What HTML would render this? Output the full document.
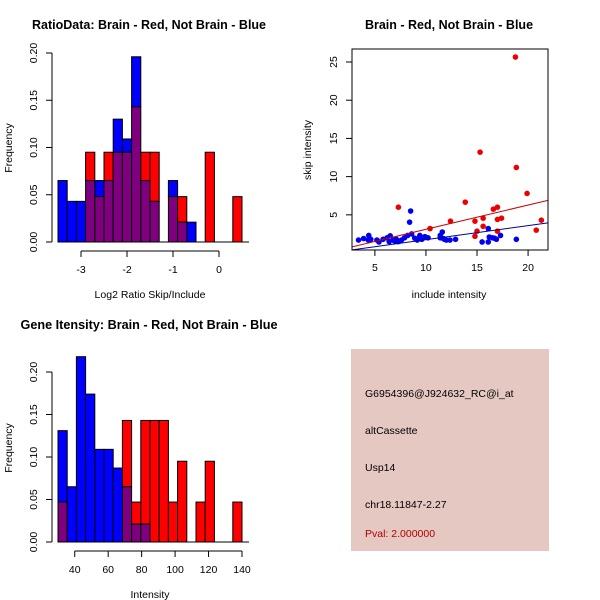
<!DOCTYPE html>
<html><head><meta charset="utf-8">
<style>
html,body{margin:0;padding:0;background:#fff;}
svg{display:block;font-family:"Liberation Sans","DejaVu Sans",sans-serif;}
</style></head>
<body>
<svg id="chart" width="600" height="600" viewBox="0 0 600 600" xmlns="http://www.w3.org/2000/svg">
<g>
<text x="149" y="29" font-size="12.5" font-weight="bold" text-anchor="middle" textLength="234" lengthAdjust="spacingAndGlyphs">RatioData: Brain - Red, Not Brain - Blue</text>
<text x="150" y="298" font-size="10.5" text-anchor="middle">Log2 Ratio Skip/Include</text>
<text transform="translate(12,148) rotate(-90)" font-size="10.5" text-anchor="middle">Frequency</text>
<g id="h1"></g>
</g>
<g>
<text x="449" y="29" font-size="12.5" font-weight="bold" text-anchor="middle">Brain - Red, Not Brain - Blue</text>
<text x="449" y="298" font-size="10.5" text-anchor="middle">include intensity</text>
<text transform="translate(311,150) rotate(-90)" font-size="10.5" text-anchor="middle">skip intensity</text>
<g id="sc"></g>
</g>
<g>
<text x="149" y="329" font-size="12.5" font-weight="bold" text-anchor="middle" textLength="257" lengthAdjust="spacingAndGlyphs">Gene Itensity: Brain - Red, Not Brain - Blue</text>
<text x="150" y="598" font-size="10.5" text-anchor="middle">Intensity</text>
<text transform="translate(12,448) rotate(-90)" font-size="10.5" text-anchor="middle">Frequency</text>
<g id="h2"></g>
</g>
<g>
<rect x="351" y="349" width="198" height="202" fill="#e6c8c2"/>
<text x="365" y="397" font-size="10.5">G6954396@J924632_RC@i_at</text>
<text x="365" y="434" font-size="10.5">altCassette</text>
<text x="365" y="471" font-size="10.5">Usp14</text>
<text x="365" y="508" font-size="10.5">chr18.11847-2.27</text>
<text x="365" y="537" font-size="10.5" fill="#b00000">Pval: 2.000000</text>
</g>
</svg>
<script>
// Ratio histogram data (20 bins from -3.5 to 0.5)
const ratioBinStart = -3.5;
const ratioBinWidth = 0.2;
const ratioBlue = [0.065,0.043,0.043,0.065,0.065,0.065,0.130,0.109,0.196,0.065,0.043,0,0.065,0.021,0.021,0,0,0,0,0];
const ratioRed  = [0,0,0,0.095,0.048,0.095,0.095,0.095,0.143,0.095,0.095,0,0.048,0.048,0,0,0.095,0,0,0.048];
const ratioXTicks = [-3,-2,-1,0];
const ratioYTicks = ["0.00","0.05","0.10","0.15","0.20"];

// Intensity histogram data (20 bins from 30 to 140)
const intBinStart = 30;
const intBinWidth = 5.5;
const intBlue = [0.131,0.065,0.218,0.174,0.109,0.109,0.087,0.065,0.021,0.021,0,0,0,0,0,0,0,0,0,0];
const intRed  = [0.047,0,0,0,0,0,0,0.143,0.047,0.143,0.143,0.143,0.047,0.095,0,0.047,0.095,0,0,0.047];
const intXTicks = [40,60,80,100,120,140];
const intYTicks = ["0.00","0.05","0.10","0.15","0.20"];

// Scatter data
const redX = [18.76,15.3,18.85,19.9,7.3,13.85,17.0,16.6,15.6,17.4,17.0,21.3,12.4,14.8,10.4,15.6,15.0,17.0,20.8,14.8];
const redY = [25.65,13.2,11.2,7.8,6.0,6.66,6.0,5.74,4.56,4.56,4.4,4.3,4.17,4.17,3.2,3.5,2.86,2.86,3.0,2.2];
const blueX = [8.5,8.4,3.4,3.9,4.4,4.35,4.6,5.2,5.4,5.8,6.2,6.5,6.4,6.8,7.1,7.3,7.6,7.9,8.2,8.6,8.9,9.15,9.4,9.6,9.9,10.2,11.6,11.4,11.8,12.0,12.35,12.9,15.5,16.1,16.1,16.2,16.7,16.9,17.3,18.85,11.4,6.9,9.3,11.7,16.5,7.0];
const blueY = [5.5,4.04,1.7,1.9,2.3,1.7,1.8,1.7,1.45,1.8,2.0,2.25,1.5,1.7,1.8,1.5,1.7,2.0,2.3,2.5,1.95,1.7,2.3,1.8,2.15,2.0,2.75,2.0,1.8,1.7,1.7,1.8,1.45,1.45,3.2,2.1,1.95,1.8,2.3,1.8,2.3,1.6,1.9,1.9,2.0,1.55];
const redFit = [-0.06,0.317];
const blueFit = [-0.09,0.184];
const scXTicks = [5,10,15,20];
const scYTicks = [5,10,15,20,25];

const NS = "http://www.w3.org/2000/svg";
function mk(parent, tag, attrs){
  const e = document.createElementNS(NS, tag);
  for (const k in attrs) e.setAttribute(k, attrs[k]);
  parent.appendChild(e);
  return e;
}

function hist(gid, x0px, x1px, y0px, y1px, binStart, binW, nb, blue, red, xTicks, yTicks, prefix){
  const g = document.getElementById(gid);
  const xs = v => x0px + (v - binStart) / (binW*nb) * (x1px - x0px);
  const ys = v => y0px - v / 0.2 * (y0px - y1px);
  for (let i=0;i<nb;i++){
    const xa = xs(binStart+i*binW), xb = xs(binStart+(i+1)*binW);
    const b = blue[i], r = red[i];
    const hi = Math.max(b,r), lo = Math.min(b,r);
    if (hi > 0){
      const top = mk(g,'rect',{x:xa,y:ys(hi),width:xb-xa,height:ys(lo)-ys(hi),fill:b>r?'#0000ff':'#ff0000',stroke:'#000','stroke-width':1});
      
      
    }
    if (lo > 0){
      const ov = mk(g,'rect',{x:xa,y:ys(lo),width:xb-xa,height:ys(0)-ys(lo),fill:'#7f007f',stroke:'#000','stroke-width':1});
      
      
    }
  }
  const ya = mk(g,'g',{});
  
  
  mk(ya,'line',{x1:52,y1:ys(0),x2:52,y2:ys(0.2),stroke:'#000'});
  yTicks.forEach(t=>{
    const v = parseFloat(t), y = ys(v);
    mk(ya,'line',{x1:46,y1:y,x2:52,y2:y,stroke:'#000'});
    const tx = mk(ya,'text',{transform:`translate(37,${y}) rotate(-90)`,'font-size':10.5,'text-anchor':'middle'});
    tx.textContent = t;
    
    
  });
  mk(g,'line',{x1:x0px,y1:y0px,x2:x1px+7,y2:y0px,stroke:'#000'});
  const xa = mk(g,'g',{});
  
  
  const ay = y0px + 9;
  mk(xa,'line',{x1:xs(xTicks[0]),y1:ay,x2:xs(xTicks[xTicks.length-1]),y2:ay,stroke:'#000'});
  xTicks.forEach(t=>{
    const x = xs(t);
    mk(xa,'line',{x1:x,y1:ay,x2:x,y2:ay+6,stroke:'#000'});
    const tx = mk(xa,'text',{x:x,y:ay+22,'font-size':10.5,'text-anchor':'middle'});
    tx.textContent = t;
    
    
  });
}
hist('h1', 58, 242, 242, 53, ratioBinStart, ratioBinWidth, 20, ratioBlue, ratioRed, ratioXTicks, ratioYTicks, 'ratio');
hist('h2', 58, 242, 542, 372, intBinStart, intBinWidth, 20, intBlue, intRed, intXTicks, intYTicks, 'intensity');

(function(){
  const g = document.getElementById('sc');
  const L=352,R=548,T=49,B=250;
  const xmin=2.76,xmax=21.95,ymin=0.4,ymax=26.7;
  const xs=v=>L+(v-xmin)/(xmax-xmin)*(R-L);
  const ys=v=>B-(v-ymin)/(ymax-ymin)*(B-T);
  const clip = mk(g,'clipPath',{id:'scclip'});
  mk(clip,'rect',{x:L,y:T,width:R-L,height:B-T});
  const pts = mk(g,'g',{'clip-path':'url(#scclip)'});
  blueX.forEach((x,i)=>{
    const c = mk(pts,'circle',{cx:xs(x),cy:ys(blueY[i]),r:2.8,fill:'#0000ee'});
    
    
  });
  redX.forEach((x,i)=>{
    const c = mk(pts,'circle',{cx:xs(x),cy:ys(redY[i]),r:2.8,fill:'#ee0000'});
    
    
  });
  const rl = mk(pts,'line',{x1:xs(xmin),y1:ys(redFit[0]+redFit[1]*xmin),x2:xs(xmax),y2:ys(redFit[0]+redFit[1]*xmax),stroke:'#cc0000','stroke-width':1});
  
  
  const bl = mk(pts,'line',{x1:xs(xmin),y1:ys(blueFit[0]+blueFit[1]*xmin),x2:xs(xmax),y2:ys(blueFit[0]+blueFit[1]*xmax),stroke:'#000099','stroke-width':1});
  
  
  const box = mk(g,'rect',{x:L,y:T,width:R-L,height:B-T,fill:'none',stroke:'#000'});
  
  
  scXTicks.forEach(t=>{
    const x=xs(t);
    mk(g,'line',{x1:x,y1:B,x2:x,y2:B+6,stroke:'#000'});
    const tx = mk(g,'text',{x:x,y:B+21,'font-size':10.5,'text-anchor':'middle'});
    tx.textContent=t;
    
    
  });
  scYTicks.forEach(t=>{
    const y=ys(t);
    mk(g,'line',{x1:L-6,y1:y,x2:L,y2:y,stroke:'#000'});
    const tx = mk(g,'text',{transform:`translate(${L-15},${y}) rotate(-90)`,'font-size':10.5,'text-anchor':'middle'});
    tx.textContent=t;
    
    
  });
})();
</script>
</body></html>
